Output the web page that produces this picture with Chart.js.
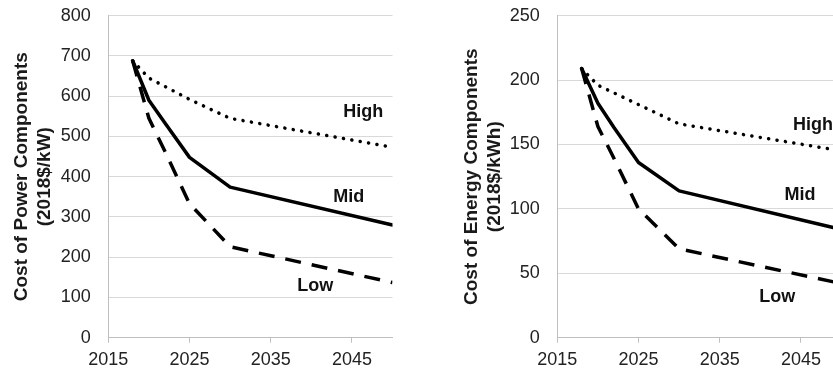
<!DOCTYPE html>
<html>
<head>
<meta charset="utf-8">
<script src="https://cdn.jsdelivr.net/npm/chart.js@4.4.1/dist/chart.umd.min.js"></script>
<style>
  html, body { margin: 0; padding: 0; background: #fff; overflow: hidden; width: 833px; height: 374px; position: relative; }
  canvas { position: absolute; top: 0; }
  #power { left: 0; }
  #energy { left: 450px; }
</style>
</head>
<body>
<canvas id="power" width="400" height="374"></canvas>
<canvas id="energy" width="400" height="374"></canvas>
<script>
// Projection years shared by every scenario
const years = [2018, 2020, 2022, 2025, 2030, 2050];

// Power components cost, 2018$/kW
const powerHigh = [688, 645, 624, 592, 545, 473];
const powerMid  = [688, 590, 533, 448, 374, 280];
const powerLow  = [688, 545, 462, 333, 226, 137];

// Energy components cost, 2018$/kWh
const energyHigh = [209, 196, 190, 181, 166, 145];
const energyMid  = [209, 182, 163, 136, 114, 84];
const energyLow  = [209, 164, 139, 100, 69, 42];

// Year ticks along the bottom axis
const xTicks = [2015, 2025, 2035, 2045];

const scenarioNames = ['High', 'Mid', 'Low'];

const FONT = '"Liberation Sans", Arial, Helvetica, sans-serif';
Chart.defaults.font.family = FONT;

// Writes the scenario name next to its curve, anchored in data units
const scenarioLabels = {
  id: 'scenarioLabels',
  afterDatasetsDraw(chart, args, opts) {
    const { ctx, scales: { x, y } } = chart;
    ctx.save();
    ctx.font = 'bold 18px ' + FONT;
    ctx.fillStyle = '#111';
    ctx.textAlign = 'center';
    ctx.textBaseline = 'alphabetic';
    (opts.spots || []).forEach(s => {
      ctx.fillText(s.text, x.getPixelForValue(s.x), y.getPixelForValue(s.y));
    });
    ctx.restore();
  }
};

function points(values) {
  return years.map((yr, i) => ({ x: yr, y: values[i] }));
}

function buildChart(id, series, yMax, yStep, title, spots, axisWidth, padRight) {
  const styles = [
    { borderDash: [0.1, 8.4], borderCapStyle: 'round' },   // High: dotted
    { borderDash: [],         borderCapStyle: 'round' },   // Mid: solid
    { borderDash: [16, 11],   borderCapStyle: 'butt' }     // Low: dashed
  ];
  return new Chart(document.getElementById(id), {
    type: 'line',
    data: {
      datasets: series.map((vals, i) => Object.assign({
        label: scenarioNames[i],
        data: points(vals),
        borderColor: '#000',
        borderWidth: 3.5,
        borderJoinStyle: 'round',
        pointRadius: 0,
        pointHoverRadius: 0,
        tension: 0,
        fill: false
      }, styles[i]))
    },
    options: {
      responsive: false,
      animation: false,
      devicePixelRatio: 1,
      layout: { autoPadding: false, padding: { left: 0, right: padRight, top: 15.7, bottom: 0 } },
      plugins: {
        legend: { display: false },
        tooltip: { enabled: false },
        scenarioLabels: { spots: spots }
      },
      scales: {
        x: {
          type: 'linear',
          min: 2015,
          max: 2050,
          afterBuildTicks: s => { s.ticks = xTicks.map(v => ({ value: v })); },
          afterFit: s => { s.height = 36.3; s.paddingLeft = 0; s.paddingRight = 0; },
          grid: { drawOnChartArea: false, drawTicks: true, tickLength: 5, tickColor: '#bfbfbf', tickWidth: 1 },
          border: { color: '#bfbfbf', width: 1 },
          ticks: {
            padding: 6.5,
            color: '#222',
            font: { size: 18 },
            maxRotation: 0,
            autoSkip: false,
            callback: v => String(v)
          }
        },
        y: {
          type: 'linear',
          min: 0,
          max: yMax,
          afterFit: s => { s.width = axisWidth; s.paddingTop = 0; s.paddingBottom = 0; },
          grid: { color: '#d9d9d9', drawTicks: false, lineWidth: 1 },
          border: { color: '#bfbfbf', width: 1 },
          ticks: { stepSize: yStep, padding: 17.6, color: '#222', font: { size: 18 } },
          title: {
            display: true,
            text: title,
            color: '#1a1a1a',
            font: { size: 19, weight: 'bold', lineHeight: 1.23 },
            padding: { top: 10, bottom: 0 }
          }
        }
      }
    },
    plugins: [scenarioLabels]
  });
}

buildChart('power', [powerHigh, powerMid, powerLow], 800, 100,
  ['Cost of Power Components', '(2018$/kW)'],
  [
    { text: 'High', x: 2046.4, y: 548 },
    { text: 'Mid',  x: 2044.6, y: 336 },
    { text: 'Low',  x: 2040.5, y: 116 }
  ],
  108.3, 7.5);

buildChart('energy', [energyHigh, energyMid, energyLow], 250, 50,
  ['Cost of Energy Components', '(2018$/kWh)'],
  [
    { text: 'High', x: 2046.5, y: 161 },
    { text: 'Mid',  x: 2044.9, y: 107 },
    { text: 'Low',  x: 2042.1, y: 28 }
  ],
  107.3, 8.5);
</script>
</body>
</html>
